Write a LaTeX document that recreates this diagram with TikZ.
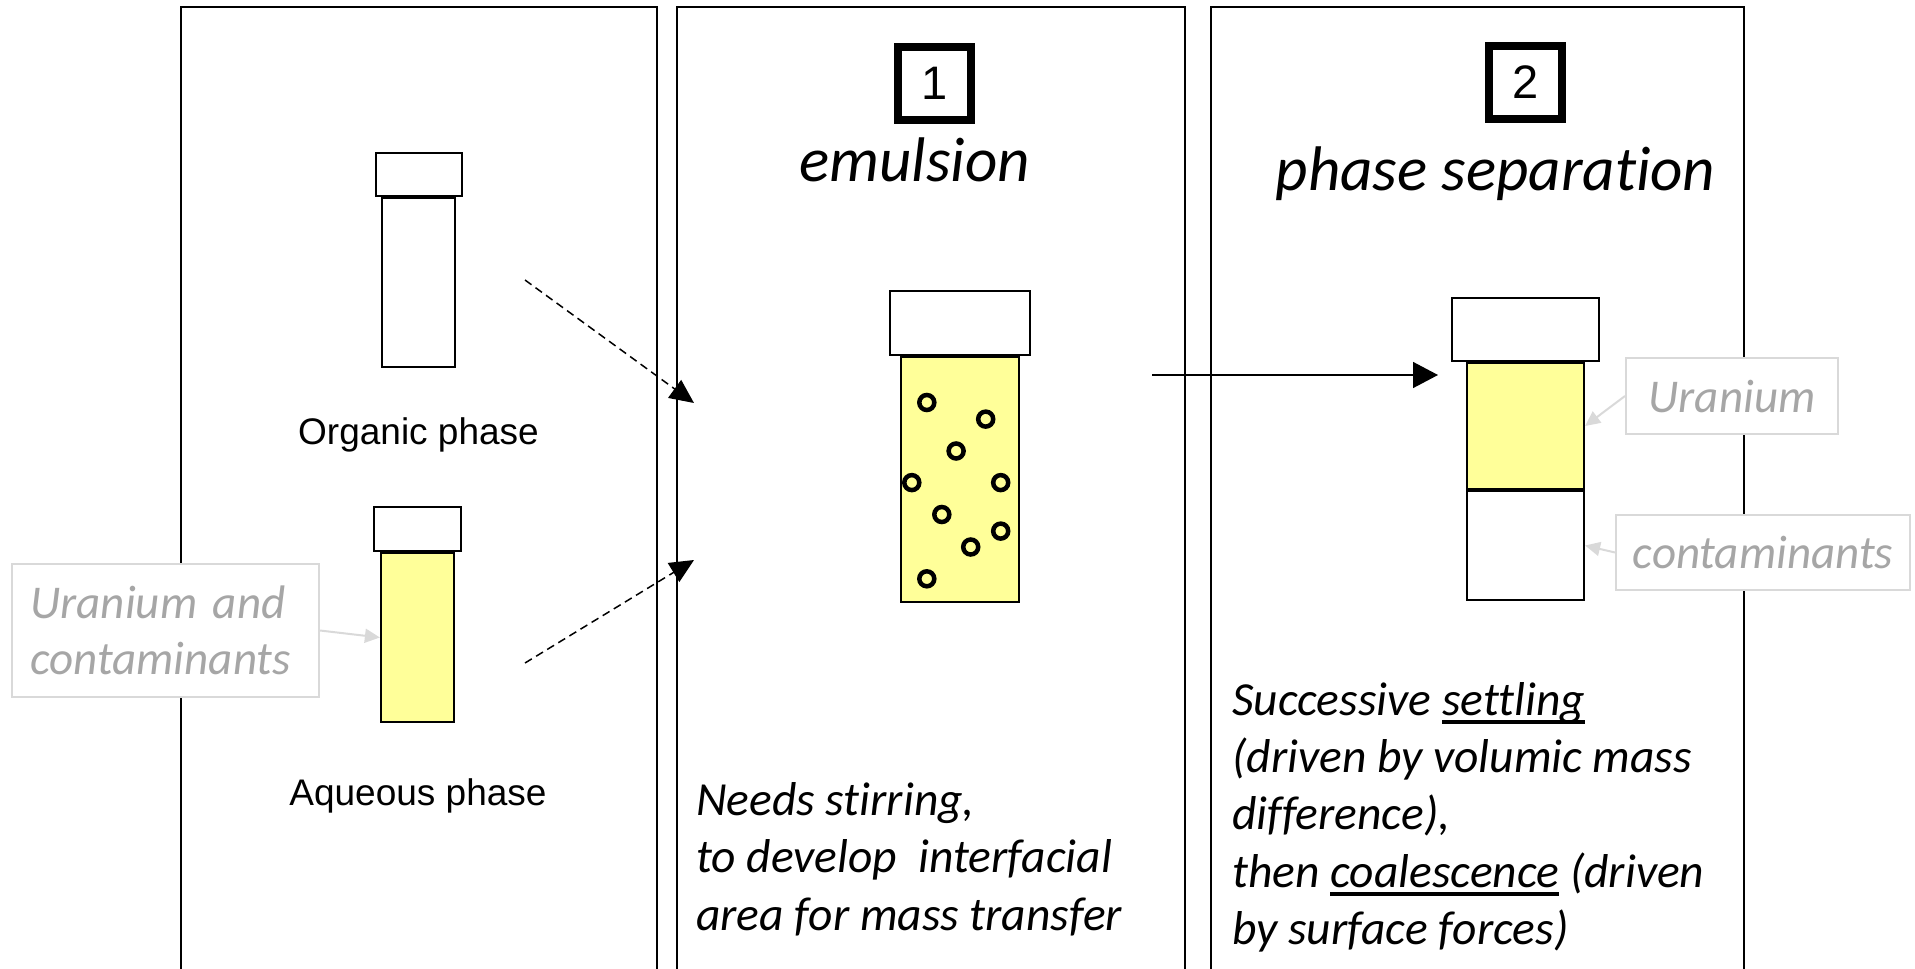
\documentclass[tikz,border=0pt]{standalone}
\usepackage{fontspec}
\setmainfont{Liberation Sans}
\newfontfamily\calfont[Ligatures=NoCommon]{Carlito}
\usetikzlibrary{arrows.meta}
\definecolor{tubeyellow}{HTML}{FFFF99}
\definecolor{notegray}{HTML}{A6A6A6}
\definecolor{noteline}{HTML}{D9D9D9}
% thick underline for emphasised words
\newcommand{\ulbar}[1]{\setbox0\hbox{#1}\rlap{\rule[-9pt]{\wd0}{4pt}}\box0\relax}
\begin{document}
\begin{tikzpicture}[x=1pt,y=-1pt,
  panel/.style={draw=black,line width=2pt},
  tubecap/.style={rectangle,draw=black,line width=2.2pt,fill=white,inner sep=0pt},
  tubebody/.style={rectangle,draw=black,line width=2.2pt,inner sep=0pt},
  bubble/.style={draw=black,line width=4.5pt},
  stepnum/.style={rectangle,draw=black,line width=8pt,minimum width=73pt,minimum height=73pt,inner sep=0pt,font=\fontsize{47}{50}\selectfont},
  title/.style={anchor=base,font=\calfont\itshape\fontsize{63}{70}\selectfont},
  phaselabel/.style={anchor=base,font=\fontsize{37}{42}\selectfont},
  note/.style={rectangle,draw=noteline,line width=2pt,fill=white,text=notegray,inner sep=0pt,font=\calfont\itshape\fontsize{47}{56}\selectfont},
  notearrow/.style={draw=noteline,line width=2pt,-{Triangle[length=15pt,width=14pt]}},
  flow/.style={line width=1.5pt,-{Triangle[length=24pt,width=22pt]}},
  desc/.style={anchor=base west,inner sep=0pt,font=\calfont\itshape\fontsize{47.5}{57}\selectfont}]
\useasboundingbox (0,0) rectangle (1915,969);

% three stage panels, open at the bottom
\draw[panel] (181,975) -- (181,7) -- (657,7) -- (657,975);
\draw[panel] (677,975) -- (677,7) -- (1185,7) -- (1185,975);
\draw[panel] (1211,975) -- (1211,7) -- (1744,7) -- (1744,975);

% --- panel 1: the two starting phases ---
\node[tubebody,minimum width=73pt,minimum height=169pt] (orgbody) at (418.5,282.5) {};
\node[tubecap,minimum width=86pt,minimum height=43pt] (orgcap) at (419,174.5) {};
\node[phaselabel] (orglabel) at (418.5,444) {Organic phase};

\node[tubebody,fill=tubeyellow,minimum width=73pt,minimum height=169pt] (aqbody) at (417.5,637.5) {};
\node[tubecap,minimum width=87pt,minimum height=44pt] (aqcap) at (417.5,529) {};
\node[phaselabel] (aqlabel) at (418,805) {Aqueous phase};

\node[note,minimum width=307pt,minimum height=133pt,text width=270pt,align=left] (ucnote) at (165.5,630.5) {Uranium and\\contaminants};
\draw[notearrow] (ucnote.east) -- (aqbody.west);

% --- panel 2: emulsion ---
\node[stepnum] (num1) at (934.5,83) {1};
\node[title] (emtitle) at (914.6,181) {emulsion};
\node[tubebody,fill=tubeyellow,minimum width=118pt,minimum height=245pt] (embody) at (960,479.5) {};
\node[tubecap,minimum width=140pt,minimum height=64pt] (emcap) at (960,323) {};
\foreach \bx/\by in {926.8/402.5, 985.7/419.1, 956.1/451, 911.8/482.6, 1000.7/482.6,
                     941.8/514.5, 1000.7/531.1, 970.7/547, 926.8/578.8}
  \draw[bubble] (\bx,\by) circle[radius=7.5pt];

\node[desc] (em1) at (696,815) {Needs stirring,};
\node[desc] (em2) at (696,872.5) {to develop\ \ interfacial};
\node[desc] (em3) at (696,930) {area for mass transfer};

% --- panel 3: phase separation ---
\node[stepnum] (num2) at (1525.5,82) {2};
\node[title] (septitle) at (1495.5,190) {phase separation};
\node[tubebody,fill=tubeyellow,minimum width=117pt,minimum height=126pt] (uphase) at (1525.5,426) {};
\node[tubebody,fill=white,minimum width=117pt,minimum height=109pt] (cphase) at (1525.5,545.5) {};
\node[tubecap,minimum width=147pt,minimum height=63pt] (sepcap) at (1525.5,329.5) {};

\node[note,minimum width=212pt,minimum height=76pt] (unote) at (1732,396) {Uranium};
\node[note,minimum width=294pt,minimum height=75pt] (cnote) at (1763,552.5) {contaminants};
\draw[notearrow] (unote.west) -- (uphase.east);
\draw[notearrow] (cnote.west) -- (cphase.east);

\node[desc] (sep1) at (1232,715) {Successive \ulbar{settling}};
\node[desc] (sep2) at (1232,772) {(driven by volumic mass};
\node[desc] (sep3) at (1232,829) {difference),};
\node[desc] (sep4) at (1232,887) {then \ulbar{coalescence} (driven};
\node[desc] (sep5) at (1232,944) {by surface forces)};

% --- flow arrows between stages ---
\coordinate (orgout) at (525,280);
\coordinate (aqout) at (525,663);
\coordinate (emin1) at (694,403);
\coordinate (emin2) at (694,560);
\coordinate (emout) at (1152,375);
\coordinate (sepin) at (1438,375);
\draw[flow,dash pattern=on 8pt off 5pt] (orgout) -- (emin1);
\draw[flow,dash pattern=on 8pt off 5pt] (aqout) -- (emin2);
\draw[flow,-{Triangle[length=25pt,width=26pt]}] (emout) -- (sepin);
\end{tikzpicture}
\end{document}
